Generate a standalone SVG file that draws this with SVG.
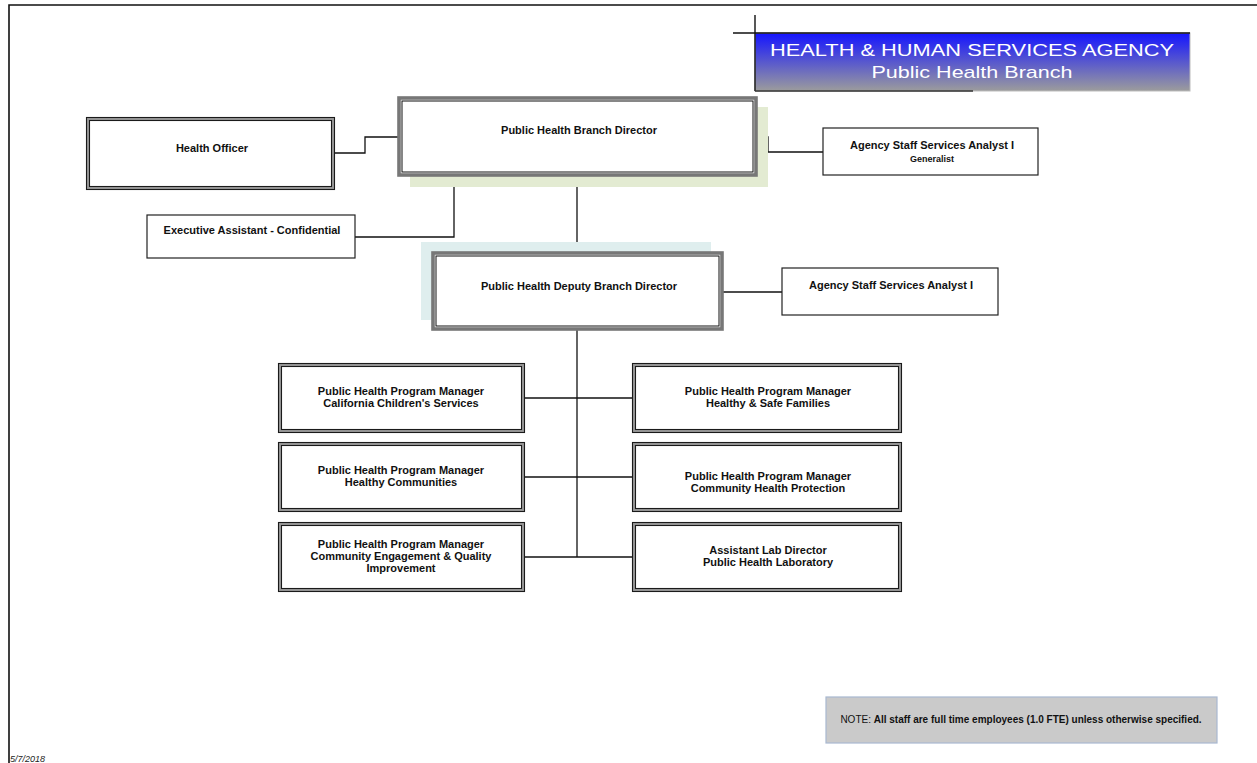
<svg xmlns="http://www.w3.org/2000/svg" width="1257" height="763" viewBox="0 0 1257 763">
  <defs>
    <linearGradient id="hdrGrad" x1="0" y1="0" x2="0" y2="1">
      <stop offset="0" stop-color="#1414ff"/>
      <stop offset="1" stop-color="#9c9c9c"/>
    </linearGradient>
    <style>
      .lbl { font-family: "Liberation Sans", Arial, sans-serif; font-size: 11px; font-weight: bold; fill: #111; text-anchor: middle; }
      .small { font-size: 9px; }
      .hdr { font-family: "Liberation Sans", Arial, sans-serif; font-size: 17px; fill: #fff; text-anchor: middle; }
      .wire { fill: none; stroke: #111; stroke-width: 1.3; }
      .single { fill: #fff; stroke: #222; stroke-width: 1.2; }
      .dblBand { fill: #fff; stroke: #9a9a9a; stroke-width: 3; }
      .dblLine { fill: none; stroke: #1a1a1a; stroke-width: 1.1; }
      .thickOuter { fill: #fff; stroke: #777; stroke-width: 3.6; }
      .thickInner { fill: none; stroke: #111; stroke-width: 1; }
    </style>
  </defs>

  <rect width="1257" height="763" fill="#fff"/>

  <!-- page frame -->
  <path d="M9 763 V5 H1257" fill="none" stroke="#111" stroke-width="1.6"/>

  <!-- title banner -->
  <g id="title">
    <rect x="755" y="33" width="435" height="58" fill="url(#hdrGrad)" stroke="#bbb" stroke-width="1"/>
    <path d="M733 33 H1190" stroke="#111" stroke-width="1.4" fill="none"/>
    <path d="M755 15 V91" stroke="#111" stroke-width="1.4" fill="none"/>
    <path d="M755 91 H973" stroke="#333" stroke-width="1.6" fill="none"/>
    <text class="hdr" x="972" y="56" textLength="404" lengthAdjust="spacingAndGlyphs">HEALTH &amp; HUMAN SERVICES AGENCY</text>
    <text class="hdr" x="972" y="78" textLength="201" lengthAdjust="spacingAndGlyphs">Public Health Branch</text>
  </g>

  <!-- connectors -->
  <g id="connectors">
    <path class="wire" d="M333 153 H365 V137 H398"/>
    <path class="wire" d="M756 137 H768 V152 H823"/>
    <path class="wire" d="M355 237 H454 V177"/>
    <path class="wire" d="M577 177 V252"/>
    <path class="wire" d="M722 292 H782"/>
    <path class="wire" d="M577 329 V557"/>
    <path class="wire" d="M523 398 H633"/>
    <path class="wire" d="M523 477 H633"/>
    <path class="wire" d="M523 557 H633"/>
  </g>

  <g id="health-officer">
    <rect class="dblBand" x="88" y="119" width="245" height="69"/>
    <rect class="dblLine" x="86.5" y="117.5" width="248" height="72"/>
    <rect class="dblLine" x="89.5" y="120.5" width="242" height="66"/>
    <text class="lbl" x="212" y="152">Health Officer</text>
  </g>

  <g id="branch-director">
    <rect x="410" y="107" width="358" height="80" fill="#e3ebd2"/>
    <rect class="thickOuter" x="399" y="98" width="357" height="77"/>
    <rect class="thickInner" x="402" y="101" width="351" height="71"/>
    <text class="lbl" x="579" y="134">Public Health Branch Director</text>
  </g>

  <g id="analyst-generalist">
    <rect class="single" x="823" y="128" width="215" height="47"/>
    <text class="lbl" x="932" y="149">Agency Staff Services Analyst I</text>
    <text class="lbl small" x="932" y="162">Generalist</text>
  </g>

  <g id="executive-assistant">
    <rect class="single" x="147" y="215" width="208" height="43"/>
    <text class="lbl" x="252" y="234">Executive Assistant - Confidential</text>
  </g>

  <g id="deputy-director">
    <rect x="421" y="242" width="290" height="78" fill="#dfeeee"/>
    <rect class="thickOuter" x="433" y="253" width="289" height="76"/>
    <rect class="thickInner" x="436" y="256" width="283" height="70"/>
    <text class="lbl" x="579" y="290">Public Health Deputy Branch Director</text>
  </g>

  <g id="analyst">
    <rect class="single" x="782" y="268" width="216" height="47"/>
    <text class="lbl" x="891" y="289">Agency Staff Services Analyst I</text>
  </g>

  <g id="pm-ccs">
    <rect class="dblBand" x="280" y="365" width="243" height="66"/>
    <rect class="dblLine" x="278.5" y="363.5" width="246" height="69"/>
    <rect class="dblLine" x="281.5" y="366.5" width="240" height="63"/>
    <text class="lbl" x="401" y="395">Public Health Program Manager</text>
    <text class="lbl" x="401" y="407">California Children's Services</text>
  </g>

  <g id="pm-families">
    <rect class="dblBand" x="634" y="365" width="266" height="66"/>
    <rect class="dblLine" x="632.5" y="363.5" width="269" height="69"/>
    <rect class="dblLine" x="635.5" y="366.5" width="263" height="63"/>
    <text class="lbl" x="768" y="395">Public Health Program Manager</text>
    <text class="lbl" x="768" y="407">Healthy &amp; Safe Families</text>
  </g>

  <g id="pm-communities">
    <rect class="dblBand" x="280" y="444" width="243" height="66"/>
    <rect class="dblLine" x="278.5" y="442.5" width="246" height="69"/>
    <rect class="dblLine" x="281.5" y="445.5" width="240" height="63"/>
    <text class="lbl" x="401" y="474">Public Health Program Manager</text>
    <text class="lbl" x="401" y="486">Healthy Communities</text>
  </g>

  <g id="pm-protection">
    <rect class="dblBand" x="634" y="444" width="266" height="66"/>
    <rect class="dblLine" x="632.5" y="442.5" width="269" height="69"/>
    <rect class="dblLine" x="635.5" y="445.5" width="263" height="63"/>
    <text class="lbl" x="768" y="480">Public Health Program Manager</text>
    <text class="lbl" x="768" y="492">Community Health Protection</text>
  </g>

  <g id="pm-engagement">
    <rect class="dblBand" x="280" y="524" width="243" height="66"/>
    <rect class="dblLine" x="278.5" y="522.5" width="246" height="69"/>
    <rect class="dblLine" x="281.5" y="525.5" width="240" height="63"/>
    <text class="lbl" x="401" y="548">Public Health Program Manager</text>
    <text class="lbl" x="401" y="560">Community Engagement &amp; Quality</text>
    <text class="lbl" x="401" y="572">Improvement</text>
  </g>

  <g id="lab-director">
    <rect class="dblBand" x="634" y="524" width="266" height="66"/>
    <rect class="dblLine" x="632.5" y="522.5" width="269" height="69"/>
    <rect class="dblLine" x="635.5" y="525.5" width="263" height="63"/>
    <text class="lbl" x="768" y="554">Assistant Lab Director</text>
    <text class="lbl" x="768" y="566">Public Health Laboratory</text>
  </g>

  <g id="note">
    <rect x="826" y="697" width="391" height="46" fill="#cacaca" stroke="#a8b8d0" stroke-width="1.2"/>
    <text x="1021" y="723" font-family="Liberation Sans, Arial, sans-serif" font-size="10" fill="#111" text-anchor="middle">NOTE:  <tspan font-weight="bold">All staff are full time employees (1.0 FTE) unless otherwise specified.</tspan></text>
  </g>

  <text x="10" y="762" font-family="Liberation Sans, Arial, sans-serif" font-size="9" font-style="italic" fill="#222">5/7/2018</text>
</svg>
